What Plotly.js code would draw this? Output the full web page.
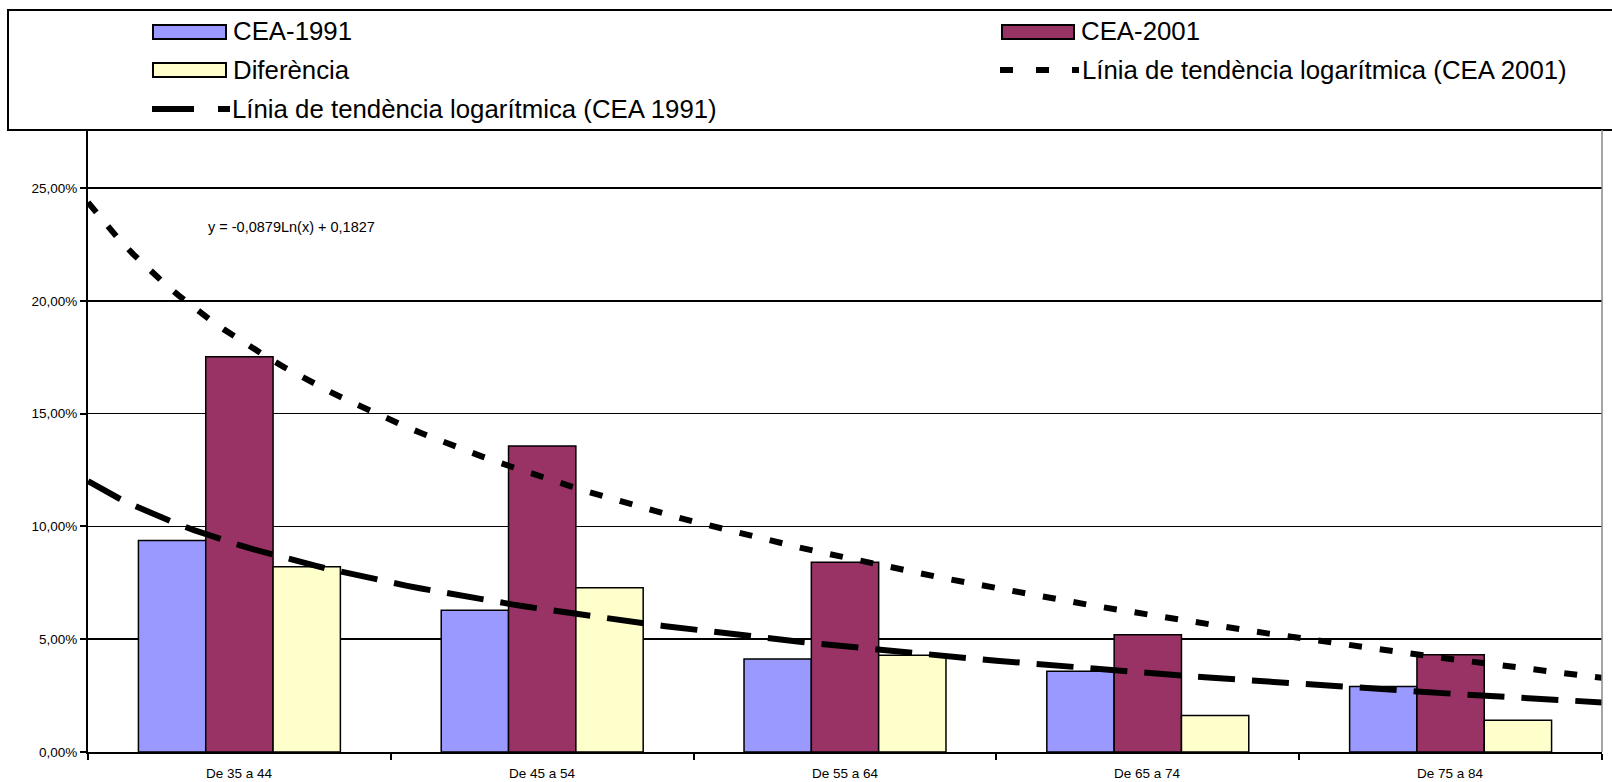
<!DOCTYPE html>
<html>
<head>
<meta charset="utf-8">
<script src="https://cdn.plot.ly/plotly-3.0.1.min.js"></script>
<style>
  html, body { margin: 0; padding: 0; background: #fff; }
  #chart { width: 1612px; height: 782px; }
</style>
</head>
<body>
<div id="chart"></div>
<script>
// ---- Data ----
const categories = ["De 35 a 44", "De 45 a 54", "De 55 a 64", "De 65 a 74", "De 75 a 84"];
const cea1991 = [0.0937, 0.0628, 0.0412, 0.0358, 0.0290];
const cea2001 = [0.1752, 0.1356, 0.0841, 0.0520, 0.0431];
const diferencia = [0.0821, 0.0728, 0.0429, 0.0162, 0.0141];
const seriesNames = ["CEA-1991", "CEA-2001", "Diferència"];
const trendNames = ["Línia de tendència logarítmica (CEA 2001)", "Línia de tendència logarítmica (CEA 1991)"];
// logarithmic trendline coefficients y = a*ln(x) + b  (x = category index 1..5)
const trend2001 = { a: -0.0879, b: 0.1827 };
const trend1991 = { a: -0.0409, b: 0.0917 };
const equationText = "y = -0,0879Ln(x) + 0,1827";
const yTicks = [0, 0.05, 0.10, 0.15, 0.20, 0.25];

// ---- Trendline curves (evaluated across the category span) ----
function trendCurve(c) {
  const xs = [], ys = [];
  for (let i = 0; i <= 100; i++) {
    const x = 0.5 + i * 0.05;
    xs.push(x);
    ys.push(c.a * Math.log(x) + c.b);
  }
  return { xs, ys };
}
const t01 = trendCurve(trend2001);
const t91 = trendCurve(trend1991);

// ---- Layout geometry (pixels) ----
const W = 1612, H = 782;
const PL = 88, PR = 1602, PT = 130, PB = 752;
const px = x => (x - PL) / (PR - PL);
const py = y => (PB - y) / (PB - PT);

const FONT = "Liberation Sans, Arial, sans-serif";
const colors = ["#9999FF", "#993366", "#FFFFCC"];

const traces = [
  { type: "bar", name: seriesNames[0], x: categories, y: cea1991, marker: { color: colors[0], line: { color: "#000", width: 1.5 } }, hoverinfo: "y" },
  { type: "bar", name: seriesNames[1], x: categories, y: cea2001, marker: { color: colors[1], line: { color: "#000", width: 1.5 } }, hoverinfo: "y" },
  { type: "bar", name: seriesNames[2], x: categories, y: diferencia, marker: { color: colors[2], line: { color: "#000", width: 1.5 } }, hoverinfo: "y" },
  { type: "scatter", mode: "lines", name: trendNames[0], x: t01.xs, y: t01.ys, xaxis: "x2",
    line: { color: "#000", width: 6, dash: "13px,18px" }, hoverinfo: "skip" },
  { type: "scatter", mode: "lines", name: trendNames[1], x: t91.xs, y: t91.ys, xaxis: "x2",
    line: { color: "#000", width: 6, dash: "37px,17px" }, hoverinfo: "skip" }
];

// ---- Manual legend (Excel-style) ----
const shapes = [];
const annotations = [];
// legend box
shapes.push({ type: "rect", xref: "paper", yref: "paper", x0: px(8), x1: px(1630), y0: py(10), y1: py(130),
  line: { color: "#000", width: 2 }, fillcolor: "rgba(0,0,0,0)", layer: "above" });
// plot area right border
shapes.push({ type: "line", xref: "paper", yref: "paper", x0: 1, x1: 1, y0: 0, y1: 1,
  line: { color: "#888", width: 1.5 }, layer: "above" });

function swatch(x0, x1, yc, color) {
  shapes.push({ type: "rect", xref: "paper", yref: "paper", x0: px(x0), x1: px(x1), y0: py(yc + 7), y1: py(yc - 7),
    line: { color: "#000", width: 2 }, fillcolor: color, layer: "above" });
}
function legLine(x0, x1, yc, dash) {
  shapes.push({ type: "line", xref: "paper", yref: "paper", x0: px(x0), x1: px(x1), y0: py(yc), y1: py(yc),
    line: { color: "#000", width: 6, dash: dash }, layer: "above" });
}
function legText(x, yc, text) {
  annotations.push({ xref: "paper", yref: "paper", x: px(x), y: py(yc), xanchor: "left", yanchor: "middle",
    text: text, showarrow: false, font: { family: FONT, size: 25.8, color: "#000" } });
}
const row = [31, 70, 109];
swatch(153, 226, row[0] + 1, colors[0]); legText(231, row[0], seriesNames[0]);
swatch(1002, 1074, row[0] + 1, colors[1]); legText(1079, row[0], seriesNames[1]);
swatch(153, 226, row[1], colors[2]); legText(231, row[1], seriesNames[2]);
legLine(1000, 1079, row[1], "13px,23px"); legText(1080, row[1], trendNames[0]);
legLine(152, 230, row[2], "42px,24px"); legText(230, row[2], trendNames[1]);

// trendline equation label
annotations.push({ xref: "paper", yref: "paper", x: px(291), y: py(227), xanchor: "center", yanchor: "middle",
  text: equationText, showarrow: false, font: { family: FONT, size: 14.5, color: "#000" } });

// category labels under the axis (placed through the category scale)
categories.forEach(c => {
  annotations.push({ xref: "x", yref: "paper", x: c, y: py(773), xanchor: "center", yanchor: "middle",
    text: c, showarrow: false, font: { family: FONT, size: 13.5, color: "#000" } });
});

const layout = {
  width: W, height: H,
  margin: { l: PL, r: W - PR, t: PT, b: H - PB, pad: 0 },
  paper_bgcolor: "#fff", plot_bgcolor: "#fff",
  showlegend: false,
  barmode: "group", bargap: 0.333, bargroupgap: 0,
  separators: ",.",
  font: { family: FONT, color: "#000" },
  xaxis: {
    type: "category", range: [-0.5, 4.5], tickson: "boundaries",
    showline: true, linecolor: "#000", linewidth: 2,
    ticks: "outside", ticklen: 6, tickwidth: 2, tickcolor: "#000",
    showticklabels: false,
    showgrid: false, zeroline: false, fixedrange: true
  },
  xaxis2: { overlaying: "x", type: "linear", range: [0.5, 5.5], visible: false, fixedrange: true },
  yaxis: {
    range: [0, 0.2757], tickvals: yTicks, tickformat: ".2%",
    showline: true, linecolor: "#000", linewidth: 2,
    ticks: "outside", ticklen: 6, tickwidth: 2, tickcolor: "#000",
    showgrid: true, gridcolor: "#000", gridwidth: 1.5, zeroline: false,
    tickfont: { family: FONT, size: 13.5, color: "#000" }, fixedrange: true
  },
  shapes: shapes,
  annotations: annotations
};

Plotly.newPlot("chart", traces, layout, { displayModeBar: false, staticPlot: true });
</script>
</body>
</html>
